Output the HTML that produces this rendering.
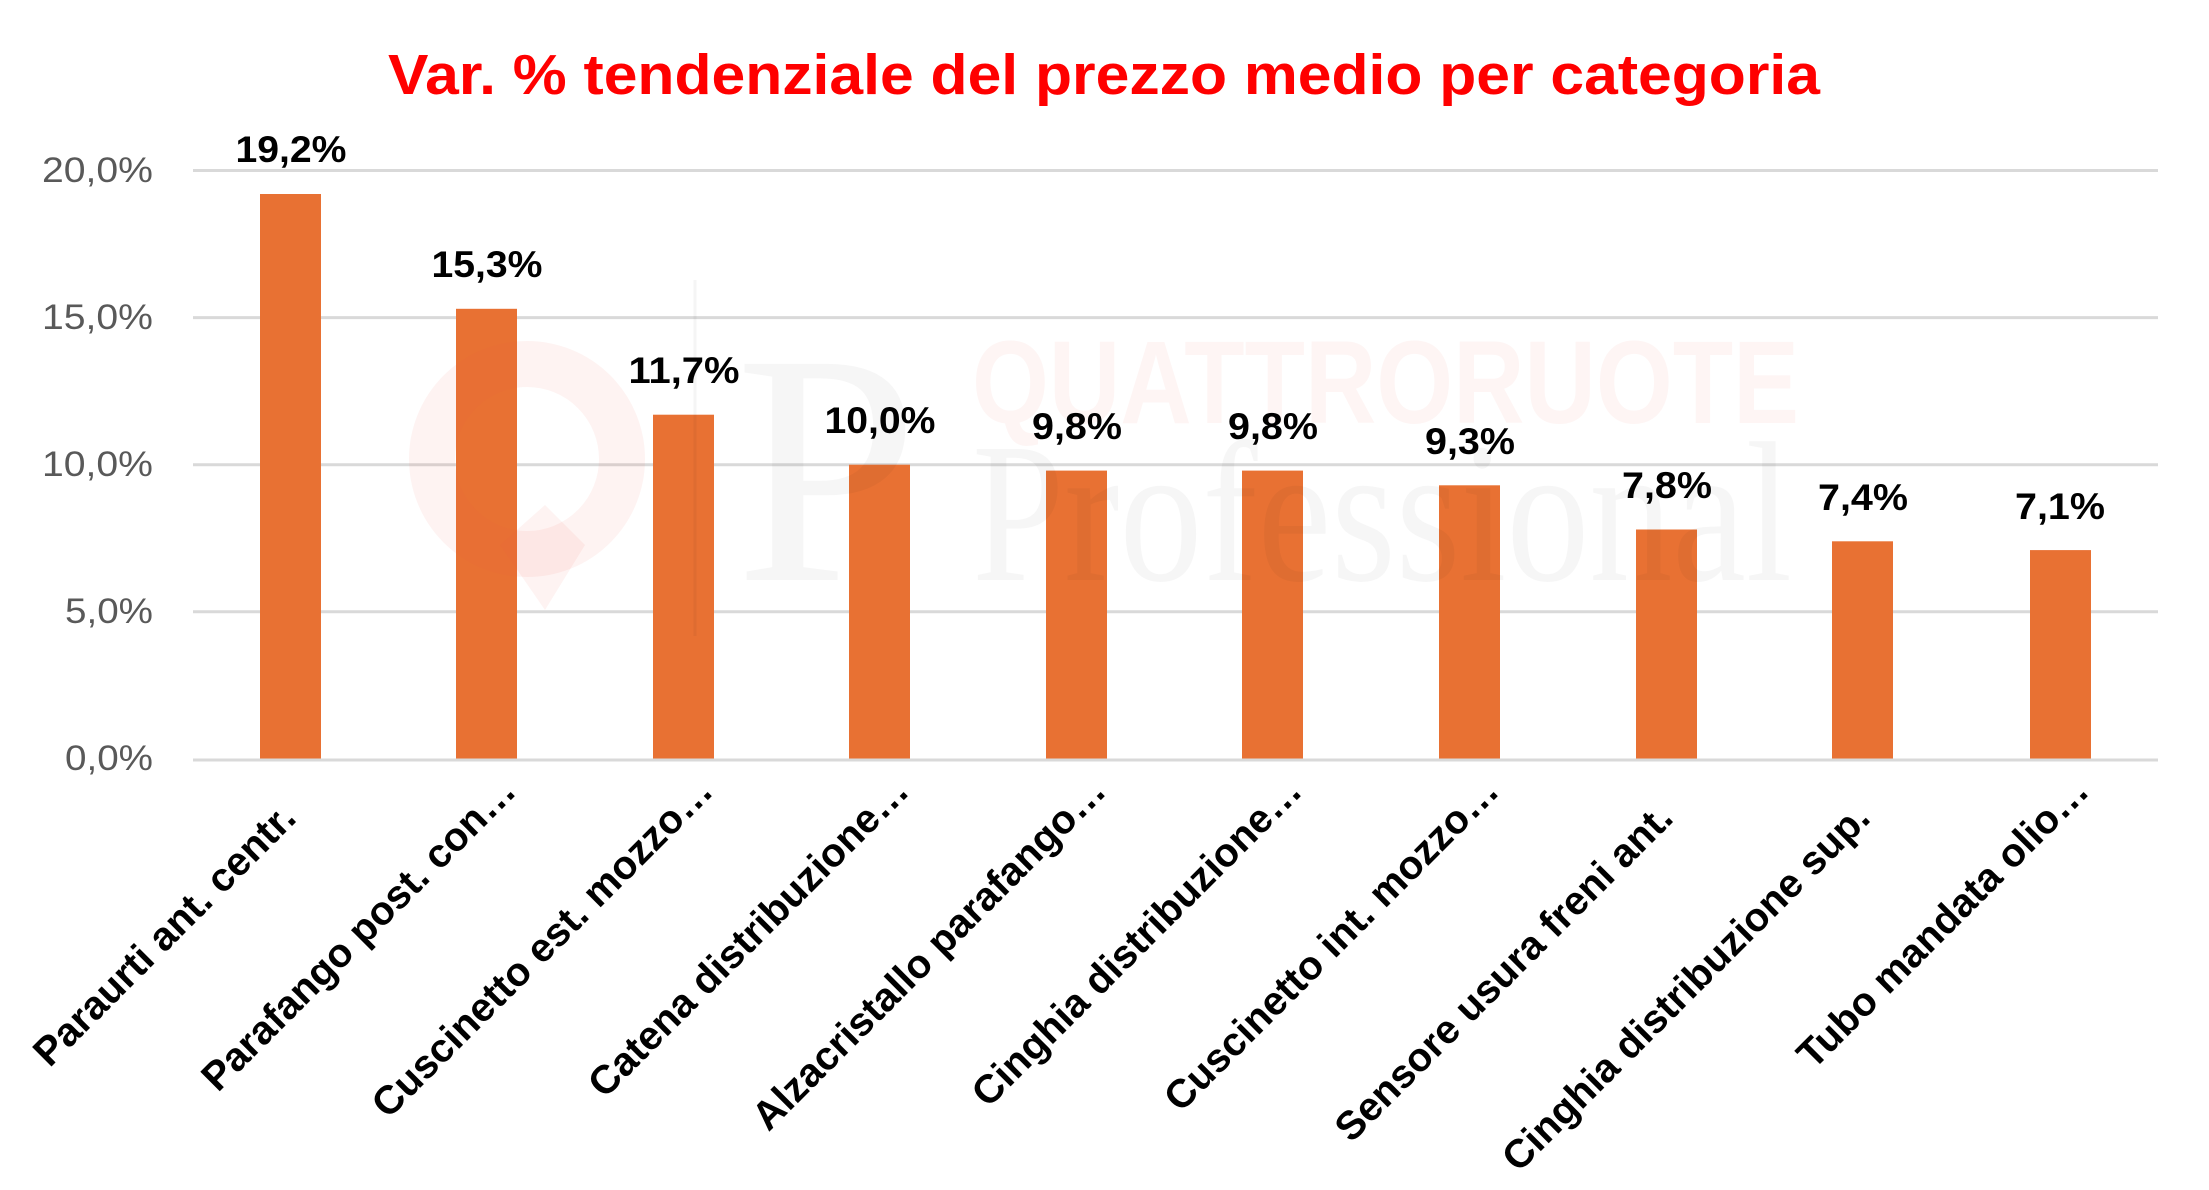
<!DOCTYPE html>
<html><head><meta charset="utf-8"><style>html,body{margin:0;padding:0;background:#fff}svg{display:block}</style></head>
<body>
<svg width="2209" height="1190" viewBox="0 0 2209 1190" xmlns="http://www.w3.org/2000/svg" font-family="'Liberation Sans', sans-serif">
<rect width="2209" height="1190" fill="#fff"/>
<text x="1104" y="94" text-anchor="middle" font-size="57" font-weight="bold" fill="#FF0000" textLength="1432" lengthAdjust="spacingAndGlyphs">Var. % tendenziale del prezzo medio per categoria</text>
<g stroke="#D9D9D9" stroke-width="3">
<line x1="193" y1="170.5" x2="2158" y2="170.5"/>
<line x1="193" y1="317.6" x2="2158" y2="317.6"/>
<line x1="193" y1="464.7" x2="2158" y2="464.7"/>
<line x1="193" y1="611.8" x2="2158" y2="611.8"/>
</g>
<g font-size="35" fill="#595959" text-anchor="end">
<text x="153" y="182" textLength="111" lengthAdjust="spacingAndGlyphs">20,0%</text>
<text x="153" y="329" textLength="111" lengthAdjust="spacingAndGlyphs">15,0%</text>
<text x="153" y="476" textLength="111" lengthAdjust="spacingAndGlyphs">10,0%</text>
<text x="153" y="623" textLength="88" lengthAdjust="spacingAndGlyphs">5,0%</text>
<text x="153" y="770" textLength="88" lengthAdjust="spacingAndGlyphs">0,0%</text>
</g>
<g fill="#E87133">
<rect x="260" y="194" width="61" height="565"/>
<rect x="456" y="308.8" width="61" height="450.2"/>
<rect x="653" y="414.7" width="61" height="344.3"/>
<rect x="849" y="464.7" width="61" height="294.3"/>
<rect x="1046" y="470.6" width="61" height="288.4"/>
<rect x="1242" y="470.6" width="61" height="288.4"/>
<rect x="1439" y="485.3" width="61" height="273.7"/>
<rect x="1636" y="529.5" width="61" height="229.5"/>
<rect x="1832" y="541.3" width="61" height="217.7"/>
<rect x="2030" y="550.1" width="61" height="208.9"/>
</g>
<line x1="193" y1="760" x2="2158" y2="760" stroke="#D9D9D9" stroke-width="3"/>
<g>
<circle cx="527" cy="459" r="95" fill="none" stroke="rgba(240,90,70,0.07)" stroke-width="46"/>
<polygon points="545,505 585,545 545,610 500,545" fill="rgba(240,90,70,0.07)"/>
<line x1="695" y1="280" x2="695" y2="636" stroke="rgba(0,0,0,0.04)" stroke-width="3"/>
<text x="735" y="580" font-family="'Liberation Serif', serif" font-size="330" fill="rgba(0,0,0,0.035)">P</text>
<text x="972" y="423" font-size="118" font-weight="bold" fill="rgba(240,90,70,0.06)" textLength="827" lengthAdjust="spacingAndGlyphs">QUATTRORUOTE</text>
<text x="972" y="580" font-family="'Liberation Serif', serif" font-size="200" fill="rgba(0,0,0,0.035)" textLength="820" lengthAdjust="spacingAndGlyphs">Professional</text>
</g>
<g font-size="37" font-weight="bold" fill="#000" text-anchor="middle">
<text x="291" y="162" textLength="111" lengthAdjust="spacingAndGlyphs">19,2%</text>
<text x="487" y="277" textLength="111" lengthAdjust="spacingAndGlyphs">15,3%</text>
<text x="684" y="383" textLength="111" lengthAdjust="spacingAndGlyphs">11,7%</text>
<text x="880" y="433" textLength="111" lengthAdjust="spacingAndGlyphs">10,0%</text>
<text x="1077" y="439" textLength="90" lengthAdjust="spacingAndGlyphs">9,8%</text>
<text x="1273" y="439" textLength="90" lengthAdjust="spacingAndGlyphs">9,8%</text>
<text x="1470" y="454" textLength="90" lengthAdjust="spacingAndGlyphs">9,3%</text>
<text x="1667" y="498" textLength="90" lengthAdjust="spacingAndGlyphs">7,8%</text>
<text x="1863" y="510" textLength="90" lengthAdjust="spacingAndGlyphs">7,4%</text>
<text x="2060" y="519" textLength="90" lengthAdjust="spacingAndGlyphs">7,1%</text>
</g>
<g font-size="40" font-weight="bold" fill="#000" text-anchor="end">
<text transform="translate(298,820) rotate(-45)">Paraurti ant. centr.</text>
<text transform="translate(518,793) rotate(-45)">Parafango post. con…</text>
<text transform="translate(715,793) rotate(-45)">Cuscinetto est. mozzo…</text>
<text transform="translate(911,793) rotate(-45)">Catena distribuzione…</text>
<text transform="translate(1108,793) rotate(-45)">Alzacristallo parafango…</text>
<text transform="translate(1304,793) rotate(-45)">Cinghia distribuzione…</text>
<text transform="translate(1501,793) rotate(-45)">Cuscinetto int. mozzo…</text>
<text transform="translate(1675,820) rotate(-45)">Sensore usura freni ant.</text>
<text transform="translate(1872,820) rotate(-45)">Cinghia distribuzione sup.</text>
<text transform="translate(2091,793) rotate(-45)">Tubo mandata olio…</text>
</g>
</svg>
</body></html>
